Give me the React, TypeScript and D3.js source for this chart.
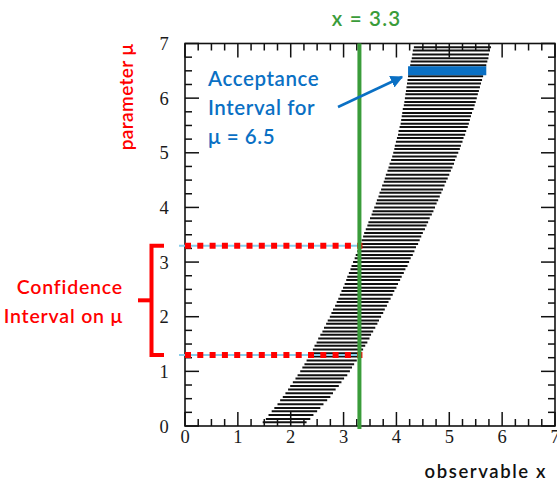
import React from "react";
import * as d3 from "d3";

const W = 557;
const H = 482;

// hatch levels of the confidence belt (parameter mu)
const muLevels = [
  0.07,0.13,0.20,0.27,0.33,0.40,0.47,0.53,0.60,0.67,0.73,0.80,0.87,0.93,1.00,
  1.07,1.13,1.20,1.27,1.33,1.40,1.47,1.53,1.60,1.67,1.73,1.80,1.87,1.93,2.00,
  2.07,2.13,2.20,2.27,2.33,2.40,2.47,2.53,2.60,2.67,2.73,2.80,2.87,2.93,3.00,
  3.07,3.13,3.20,3.27,3.33,3.40,3.47,3.53,3.60,3.67,3.73,3.80,3.87,3.93,4.00,
  4.07,4.13,4.20,4.27,4.33,4.40,4.47,4.53,4.60,4.67,4.73,4.80,4.87,4.93,5.00,
  5.07,5.13,5.20,5.27,5.33,5.40,5.47,5.53,5.60,5.67,5.73,5.80,5.87,5.93,6.00,
  6.07,6.13,6.20,6.27,6.33,6.40,6.47,6.53,6.60,6.67,6.73,6.80,6.87,6.93,
];
const beltLeft = [
  1.47,1.53,1.58,1.64,1.69,1.75,1.80,1.85,1.90,1.95,1.99,2.04,2.09,2.13,2.18,
  2.22,2.26,2.30,2.34,2.38,2.42,2.45,2.49,2.52,2.56,2.60,2.63,2.67,2.70,2.74,
  2.77,2.80,2.84,2.87,2.90,2.93,2.96,2.99,3.02,3.05,3.07,3.10,3.13,3.15,3.18,
  3.21,3.23,3.26,3.29,3.31,3.34,3.37,3.39,3.42,3.45,3.47,3.50,3.53,3.55,3.58,
  3.61,3.63,3.66,3.68,3.71,3.73,3.76,3.78,3.80,3.83,3.85,3.87,3.90,3.92,3.94,
  3.96,3.97,3.99,4.01,4.03,4.04,4.06,4.08,4.09,4.10,4.11,4.12,4.14,4.15,4.16,
  4.17,4.18,4.19,4.20,4.21,4.22,4.23,4.25,4.26,4.27,4.29,4.30,4.31,4.33,
];
const beltRight = [
  2.30,2.37,2.43,2.50,2.56,2.62,2.69,2.75,2.80,2.85,2.91,2.96,3.01,3.07,3.12,
  3.16,3.20,3.25,3.29,3.33,3.37,3.41,3.45,3.49,3.52,3.56,3.60,3.64,3.67,3.71,
  3.75,3.78,3.82,3.85,3.89,3.93,3.96,4.00,4.03,4.07,4.10,4.14,4.17,4.21,4.24,
  4.27,4.31,4.34,4.37,4.41,4.44,4.47,4.50,4.54,4.57,4.60,4.63,4.67,4.70,4.73,
  4.76,4.79,4.82,4.85,4.88,4.91,4.94,4.97,5.00,5.03,5.06,5.09,5.11,5.14,5.17,
  5.20,5.22,5.25,5.27,5.30,5.32,5.35,5.37,5.39,5.41,5.43,5.46,5.48,5.50,5.52,
  5.54,5.56,5.58,5.60,5.62,5.64,5.66,5.68,5.70,5.72,5.74,5.75,5.77,5.79,
];

const acceptanceMu = 6.5;
const acceptanceLo = 4.22;
const acceptanceHi = 5.7;
const observedX = 3.3;
const ciLow = 1.3;
const ciHigh = 3.3;

const majorTicks = [0, 1, 2, 3, 4, 5, 6, 7];
const minorTicks = [
  0.25, 0.5, 0.75, 1.25, 1.5, 1.75, 2.25, 2.5, 2.75, 3.25, 3.5, 3.75,
  4.25, 4.5, 4.75, 5.25, 5.5, 5.75, 6.25, 6.5, 6.75,
];

const BLUE = "#0a70c4";
const GREEN = "#3a9c3a";
const RED = "#ff0000";
const SANS = "Lato, 'Open Sans', sans-serif";
const SERIF = "'Liberation Serif', 'DejaVu Serif', serif";

export default function App() {
  const x = d3.scaleLinear().domain([0, 7]).range([185, 555]);
  const y = d3.scaleLinear().domain([0, 7]).range([426, 43.5]);
  const [x0, x1] = x.range();
  const [y0, y1] = y.range();
  const MAJ = 14;
  const MIN = 7;

  const gx = x(observedX);

  return (
    <svg
      width={W}
      height={H}
      style={{ position: "absolute", left: 0, top: 0, background: "#fff" }}
    >
      <defs>
        <marker
          id="arrowBlue"
          viewBox="0 0 10 10"
          refX="9"
          refY="5"
          markerWidth="5"
          markerHeight="5"
          orient="auto"
        >
          <path d="M0,0 L10,5 L0,10 z" fill={BLUE} />
        </marker>
      </defs>

      {/* belt hatching */}
      <g stroke="#111" strokeWidth={2}>
        {muLevels.map((m, i) => (
          <line
            key={i}
            x1={x(beltLeft[i])}
            x2={x(beltRight[i])}
            y1={y(m)}
            y2={y(m)}
          />
        ))}
      </g>

      {/* acceptance interval bar */}
      <line
        x1={x(acceptanceLo)}
        x2={x(acceptanceHi)}
        y1={y(acceptanceMu)}
        y2={y(acceptanceMu)}
        stroke={BLUE}
        strokeWidth={9}
      />

      {/* frame */}
      <rect
        x={x0}
        y={y1}
        width={x1 - x0}
        height={y0 - y1}
        fill="none"
        stroke="#111"
        strokeWidth={1.6}
      />
      <g stroke="#111" strokeWidth={1.5}>
        {majorTicks.map((t) => (
          <g key={"M" + t}>
            <line x1={x(t)} x2={x(t)} y1={y0} y2={y0 - MAJ} />
            <line x1={x(t)} x2={x(t)} y1={y1} y2={y1 + MAJ} />
            <line x1={x0} x2={x0 + MAJ} y1={y(t)} y2={y(t)} />
            <line x1={x1} x2={x1 - MAJ} y1={y(t)} y2={y(t)} />
          </g>
        ))}
        {minorTicks.map((t) => (
          <g key={"m" + t}>
            <line x1={x(t)} x2={x(t)} y1={y0} y2={y0 - MIN} />
            <line x1={x(t)} x2={x(t)} y1={y1} y2={y1 + MIN} />
            <line x1={x0} x2={x0 + MIN} y1={y(t)} y2={y(t)} />
            <line x1={x1} x2={x1 - MIN} y1={y(t)} y2={y(t)} />
          </g>
        ))}
      </g>

      {/* tick labels */}
      <g fontFamily={SERIF} fontSize={18.5} fill="#1a1a1a" textAnchor="middle">
        {majorTicks.map((t) => (
          <text key={"xl" + t} x={x(t)} y={443}>
            {t}
          </text>
        ))}
        {majorTicks.map((t) => (
          <text key={"yl" + t} x={164} y={y(t) + 6.5}>
            {t}
          </text>
        ))}
      </g>

      {/* confidence interval guide lines */}
      {[ciLow, ciHigh].map((m) => (
        <g key={"ci" + m}>
          <line
            x1={179}
            x2={gx}
            y1={y(m)}
            y2={y(m)}
            stroke="#87cdea"
            strokeWidth={2}
          />
          <line
            x1={x0}
            x2={gx + 3}
            y1={y(m)}
            y2={y(m)}
            stroke={RED}
            strokeWidth={6}
            strokeDasharray="6 6.3"
          />
        </g>
      ))}

      {/* observed x line */}
      <line
        x1={gx}
        x2={gx}
        y1={y1}
        y2={429}
        stroke={GREEN}
        strokeWidth={4}
      />

      {/* bracket */}
      <path
        d={`M164,${y(ciHigh)} H151.5 V${y(ciLow)} H164`}
        fill="none"
        stroke={RED}
        strokeWidth={4}
      />
      <line
        x1={138}
        x2={151.5}
        y1={(y(ciHigh) + y(ciLow)) / 2}
        y2={(y(ciHigh) + y(ciLow)) / 2}
        stroke={RED}
        strokeWidth={4}
      />

      {/* arrow */}
      <line
        x1={338}
        y1={107}
        x2={402}
        y2={77}
        stroke={BLUE}
        strokeWidth={2.5}
        markerEnd="url(#arrowBlue)"
      />

      {/* texts */}
      <g fontFamily={SANS} fontWeight={600}>
        <text
          x={366.5}
          y={26}
          fontSize={20.5}
          letterSpacing={1.2}
          fill={GREEN}
          textAnchor="middle"
        >
          x = 3.3
        </text>
        <text fontSize={20.5} letterSpacing={0.6} fill={BLUE}>
          <tspan x={208} y={86}>Acceptance</tspan>
          <tspan x={208} y={115}>Interval for</tspan>
          <tspan x={208} y={144}>μ = 6.5</tspan>
        </text>
        <text fontSize={19.5} letterSpacing={0.8} fill={RED} textAnchor="end">
          <tspan x={123} y={294}>Confidence</tspan>
          <tspan x={123} y={323}>Interval on μ</tspan>
        </text>
        <text
          fontSize={19}
          letterSpacing={0.4}
          fill={RED}
          textAnchor="middle"
          transform={`translate(133,97) rotate(-90)`}
        >
          parameter μ
        </text>
        <text
          x={547}
          y={478}
          fontSize={18.5}
          letterSpacing={1.6}
          fill="#111"
          textAnchor="end"
        >
          observable x
        </text>
      </g>
    </svg>
  );
}
